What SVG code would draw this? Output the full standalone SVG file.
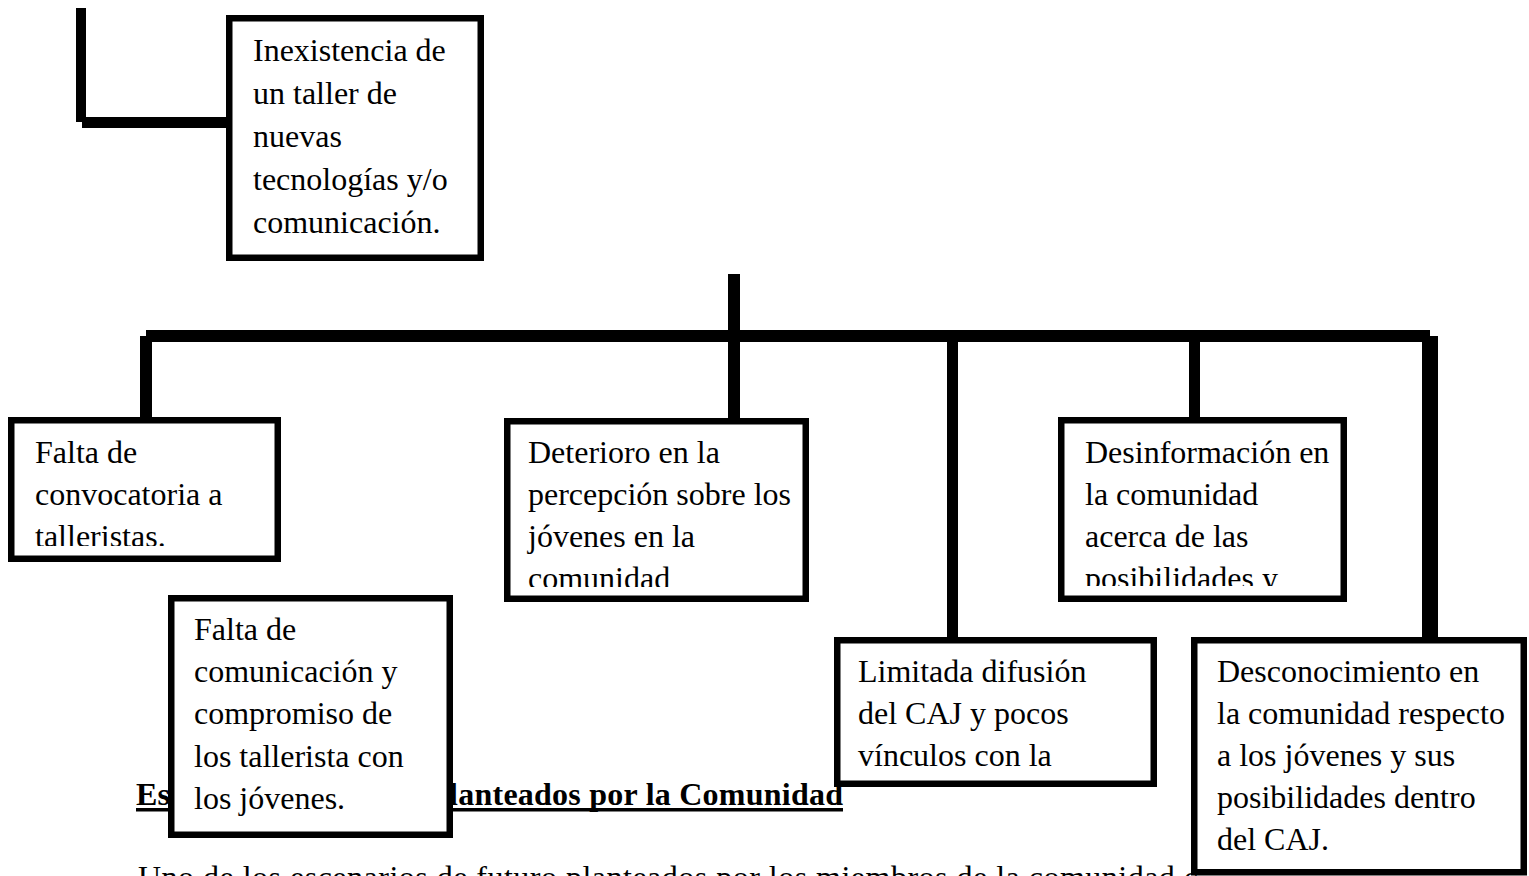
<svg xmlns="http://www.w3.org/2000/svg" width="1529" height="876" viewBox="0 0 1529 876">
<style>
  .t { font-family: "Liberation Serif", "Times New Roman", serif; font-size: 32px; fill: #000; }
  .h { font-family: "Liberation Serif", "Times New Roman", serif; font-size: 32px; font-weight: bold; fill: #000; }
  .box { fill: #fff; stroke: #000; stroke-width: 6.5; }
  .ln { fill: #000; }
</style>
<defs>
  <clipPath id="c2"><rect x="12" y="421" width="265" height="125"/></clipPath>
  <clipPath id="c3"><rect x="508" y="422" width="296" height="165"/></clipPath>
  <clipPath id="c4"><rect x="1062" y="421" width="281" height="165"/></clipPath>
</defs>
<rect width="1529" height="876" fill="#fff"/>

<g id="text-body">
  <text class="h" x="136" y="805" textLength="707" lengthAdjust="spacing">Escenarios de futuro planteados por la Comunidad</text>
  <rect class="ln" x="136" y="808" width="707" height="3.5"/>
  <text class="t" x="138" y="888" textLength="1060" lengthAdjust="spacing">Uno de los escenarios de futuro planteados por los miembros de la comunidad c</text>
</g>

<g id="connectors">
  <rect class="ln" x="76" y="8" width="10" height="114"/>
  <rect class="ln" x="82" y="117" width="146" height="11"/>
  <rect class="ln" x="728" y="274" width="12" height="146"/>
  <rect class="ln" x="146" y="330" width="1284" height="12"/>
  <rect class="ln" x="140" y="336" width="12" height="83"/>
  <rect class="ln" x="947" y="342" width="11" height="297"/>
  <rect class="ln" x="1189" y="342" width="11" height="77"/>
  <rect class="ln" x="1422" y="336" width="16" height="303"/>
</g>

<g id="n1">
  <rect class="box" x="229.25" y="18.25" width="251.5" height="239.5"/>
  <text class="t" x="253" y="61">Inexistencia de</text>
  <text class="t" x="253" y="104">un taller de</text>
  <text class="t" x="253" y="147">nuevas</text>
  <text class="t" x="253" y="190">tecnologías y/o</text>
  <text class="t" x="253" y="233">comunicación.</text>
</g>

<g id="n2">
  <rect class="box" x="11.25" y="420.25" width="266.5" height="138.5"/>
  <g clip-path="url(#c2)">
    <text class="t" x="35" y="463">Falta de</text>
    <text class="t" x="35" y="505">convocatoria a</text>
    <text class="t" x="35" y="547">talleristas.</text>
  </g>
</g>

<g id="n3">
  <rect class="box" x="507.25" y="421.25" width="298.5" height="177.5"/>
  <g clip-path="url(#c3)">
    <text class="t" x="528" y="463">Deterioro en la</text>
    <text class="t" x="528" y="505">percepción sobre los</text>
    <text class="t" x="528" y="547">jóvenes en la</text>
    <text class="t" x="528" y="589">comunidad</text>
  </g>
</g>

<g id="n4">
  <rect class="box" x="1061.25" y="420.25" width="282.5" height="178.5"/>
  <g clip-path="url(#c4)">
    <text class="t" x="1085" y="463">Desinformación en</text>
    <text class="t" x="1085" y="505">la comunidad</text>
    <text class="t" x="1085" y="547">acerca de las</text>
    <text class="t" x="1085" y="589">posibilidades y</text>
  </g>
</g>

<g id="n5">
  <rect class="box" x="171.25" y="598.25" width="278.5" height="236.5"/>
  <text class="t" x="194" y="640">Falta de</text>
  <text class="t" x="194" y="682">comunicación y</text>
  <text class="t" x="194" y="724">compromiso de</text>
  <text class="t" x="194" y="767">los tallerista con</text>
  <text class="t" x="194" y="809">los jóvenes.</text>
</g>

<g id="n6">
  <rect class="box" x="837.25" y="640.25" width="316.5" height="143.5"/>
  <text class="t" x="858" y="682">Limitada difusión</text>
  <text class="t" x="858" y="724">del CAJ y pocos</text>
  <text class="t" x="858" y="766">vínculos con la</text>
</g>

<g id="n7">
  <rect class="box" x="1194.25" y="640.25" width="329.5" height="232"/>
  <text class="t" x="1217" y="682">Desconocimiento en</text>
  <text class="t" x="1217" y="724">la comunidad respecto</text>
  <text class="t" x="1217" y="766">a los jóvenes y sus</text>
  <text class="t" x="1217" y="808">posibilidades dentro</text>
  <text class="t" x="1217" y="850">del CAJ.</text>
</g>
</svg>
